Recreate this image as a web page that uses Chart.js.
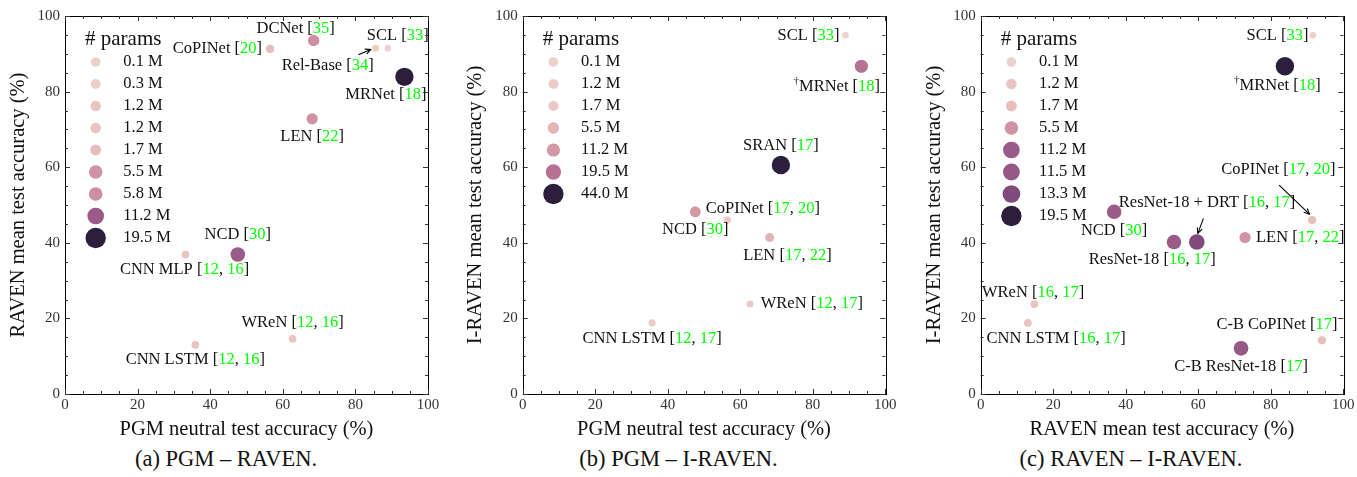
<!DOCTYPE html>
<html>
<head>
<meta charset="utf-8">
<script src="https://cdn.jsdelivr.net/npm/chart.js@4.4.1/dist/chart.umd.min.js"></script>
<style>
  html, body { margin: 0; padding: 0; background: #fff; }
  body { width: 1357px; height: 477px; position: relative; overflow: hidden; font-family: "Liberation Serif", serif; }
  .pane { position: absolute; top: 0; height: 445px; }
  .cap { position: absolute; top: 446px; font-size: 22.5px; color: #111; text-align: center; white-space: nowrap; }
</style>
</head>
<body>
<div class="pane" style="left:0px;width:452px"><canvas id="ca"></canvas></div>
<div class="pane" style="left:452px;width:453px"><canvas id="cb"></canvas></div>
<div class="pane" style="left:905px;width:452px"><canvas id="cc"></canvas></div>
<div class="cap" style="left:0px;width:452px">(a) PGM – RAVEN.</div>
<div class="cap" style="left:452px;width:453px">(b) PGM – I-RAVEN.</div>
<div class="cap" style="left:905px;width:452px">(c) RAVEN – I-RAVEN.</div>
<script>
// ---------------- DATA ----------------
const axisTicks = [0, 20, 40, 60, 80, 100];

// (a) PGM – RAVEN
const catsA   = ['CoPINet', 'DCNet', 'SCL', 'Rel-Base', 'MRNet', 'LEN', 'NCD', 'CNN MLP', 'WReN', 'CNN LSTM'];
const xA      = [56.5, 68.5, 88.9, 85.6, 93.5, 68.1, 47.6, 33.2, 62.7, 35.9];
const yA      = [91.3, 93.5, 91.5, 91.5, 83.9, 72.8, 36.9, 36.9, 14.6, 13.0];
const paramsA = [1.7, 5.8, 0.1, 0.3, 19.5, 5.5, 11.2, 1.2, 1.2, 1.2];
const refsA   = [[20], [35], [33], [34], [18], [22], [30], [12, 16], [12, 16], [12, 16]];
const legendA = [0.1, 0.3, 1.2, 1.2, 1.7, 5.5, 5.8, 11.2, 19.5];

// (b) PGM – I-RAVEN
const catsB   = ['SCL', '†MRNet', 'SRAN', 'NCD', 'CoPINet', 'LEN', 'WReN', 'CNN LSTM'];
const xB      = [89.0, 93.4, 71.2, 47.6, 56.4, 68.1, 62.7, 35.7];
const yB      = [94.9, 86.7, 60.6, 48.2, 46.0, 41.4, 23.8, 18.8];
const paramsB = [0.1, 19.5, 44.0, 11.2, 1.7, 5.5, 1.2, 1.2];
const refsB   = [[33], [18], [17], [30], [17, 20], [17, 22], [12, 17], [12, 17]];
const legendB = [0.1, 1.2, 1.7, 5.5, 11.2, 19.5, 44.0];

// (c) RAVEN – I-RAVEN
const catsC   = ['SCL', '†MRNet', 'CoPINet', 'NCD', 'ResNet-18 + DRT', 'ResNet-18', 'LEN', 'WReN', 'CNN LSTM', 'C-B CoPINet', 'C-B ResNet-18'];
const xC      = [91.6, 83.9, 91.4, 36.8, 59.6, 53.3, 72.9, 14.8, 13.0, 94.1, 71.8];
const yC      = [94.9, 86.7, 46.0, 48.2, 40.2, 40.2, 41.4, 23.8, 18.8, 14.2, 12.1];
const paramsC = [0.1, 19.5, 1.7, 11.2, 13.3, 11.2, 5.5, 1.2, 1.2, 1.7, 11.5];
const refsC   = [[33], [18], [17, 20], [30], [16, 17], [16, 17], [17, 22], [16, 17], [16, 17], [17], [17]];
const legendC = [0.1, 1.2, 1.7, 5.5, 11.2, 11.5, 13.3, 19.5];

// ---------------- LAYOUT (label placement, pixel offsets from the point) ----------------
const labelPosA = [[-8,0,'right'],[-18,-12,'center'],[10,-12,'center'],[-48,18,'center'],[-18.5,18.3,'center'],
                   [0,18,'center'],[0,-19.7,'center'],[-1,14.7,'center'],[0,-16.3,'center'],[0,15,'center']];
const arrowsA = [{i:3, from:[-17.4,6.6], to:[-5,1.3]}];
const labelPosB = [[-6,0,'right'],[-24.6,20,'center'],[0,-19,'center'],[0,18,'center'],[35.7,-11,'center'],
                   [17.8,18.3,'center'],[10.7,0,'left'],[0,15.3,'center']];
const arrowsB = [];
const labelPosC = [[-4.4,0,'right'],[-7.5,19,'center'],[-33.7,-50,'center'],[0,18.7,'center'],[10.3,-39.7,'center'],
                   [-21.8,18,'center'],[11,0,'left'],[-1.3,-11.6,'center'],[28.3,15.3,'center'],[-45,-15.7,'center'],[0,18.4,'center']];
const arrowsC = [{i:2, from:[-33,-35], to:[-2.7,-6]}, {i:4, from:[6.6,-23.7], to:[1,-8.7]}];

// ---------------- STYLE HELPERS ----------------
const SERIF = '"Liberation Serif", "Times New Roman", serif';
function cubehelix(t) {
  const x = 0.85 + (0.15 - 0.85) * t;
  const rot = 0.4, hue = 0.8;
  const a = hue * x * (1 - x) / 2;
  const phi = 2 * Math.PI * (rot * x);
  const f = (p0, p1) => Math.round(255 * Math.min(1, Math.max(0, x + a * (p0 * Math.cos(phi) + p1 * Math.sin(phi)))));
  return `rgb(${f(-0.14861, 1.78277)},${f(-0.29227, -0.90649)},${f(1.97294, 0)})`;
}
function norm(v, arr) { const mn = Math.min(...arr), mx = Math.max(...arr); return (v - mn) / (mx - mn); }
function radiusFor(t, rmin, rmax) { return Math.sqrt(rmin * rmin + (rmax * rmax - rmin * rmin) * t); }

function drawRichLabel(ctx, x, y, name, refs, align) {
  const font = '16.5px ' + SERIF, supFont = '11px ' + SERIF;
  let sup = null;
  if (name.startsWith('†')) { sup = '†'; name = name.slice(1); }
  const parts = [{t: name + ' [', c: '#111'}];
  refs.forEach((r, k) => { if (k > 0) parts.push({t: ', ', c: '#111'}); parts.push({t: String(r), c: '#00ff00'}); });
  parts.push({t: ']', c: '#111'});
  ctx.save();
  ctx.textBaseline = 'middle'; ctx.textAlign = 'left';
  let supW = 0;
  if (sup) { ctx.font = supFont; supW = ctx.measureText(sup).width; }
  ctx.font = font;
  const total = supW + parts.reduce((s, p) => s + ctx.measureText(p.t).width, 0);
  let sx = align === 'left' ? x : align === 'right' ? x - total : x - total / 2;
  if (sup) { ctx.font = supFont; ctx.fillStyle = '#111'; ctx.fillText(sup, sx, y - 5); sx += supW; ctx.font = font; }
  parts.forEach(p => { ctx.fillStyle = p.c; ctx.fillText(p.t, sx, y); sx += ctx.measureText(p.t).width; });
  ctx.restore();
}

function drawArrow(ctx, x1, y1, x2, y2) {
  ctx.save();
  ctx.strokeStyle = '#000'; ctx.lineWidth = 1.1;
  ctx.beginPath(); ctx.moveTo(x1, y1); ctx.lineTo(x2, y2); ctx.stroke();
  const ang = Math.atan2(y2 - y1, x2 - x1), L = 6, w = 0.45;
  ctx.beginPath();
  ctx.moveTo(x2 - L * Math.cos(ang - w), y2 - L * Math.sin(ang - w));
  ctx.lineTo(x2, y2);
  ctx.lineTo(x2 - L * Math.cos(ang + w), y2 - L * Math.sin(ang + w));
  ctx.stroke();
  ctx.restore();
}

// frame with inward major/minor ticks on all four sides
const framePlugin = {
  id: 'frame',
  afterDraw(chart) {
    const {ctx, chartArea: a, scales: {x, y}} = chart;
    ctx.save();
    ctx.strokeStyle = '#000'; ctx.lineWidth = 1;
    ctx.strokeRect(Math.round(a.left) + 0.5, Math.round(a.top) + 0.5, Math.round(a.right - a.left), Math.round(a.bottom - a.top));
    ctx.strokeStyle = '#333';
    for (let v = 0; v <= 100; v += 5) {
      const major = v % 20 === 0, L = major ? 5 : 3;
      const px = Math.round(x.getPixelForValue(v)) + 0.5;
      const py = Math.round(y.getPixelForValue(v)) + 0.5;
      ctx.beginPath();
      ctx.moveTo(px, a.bottom); ctx.lineTo(px, a.bottom - L);
      ctx.moveTo(px, a.top); ctx.lineTo(px, a.top + L);
      ctx.moveTo(a.left, py); ctx.lineTo(a.left + L, py);
      ctx.moveTo(a.right, py); ctx.lineTo(a.right - L, py);
      ctx.stroke();
    }
    ctx.restore();
  }
};

// labels, arrows, and "# params" legend
const annotPlugin = {
  id: 'annot',
  afterDatasetsDraw(chart, args, opts) {
    const {ctx, chartArea: a} = chart;
    const meta = chart.getDatasetMeta(0);
    opts.cats.forEach((name, i) => {
      const el = meta.data[i];
      const [dx, dy, al] = opts.labelPos[i];
      drawRichLabel(ctx, el.x + dx, el.y + dy, name, opts.refs[i], al);
    });
    opts.arrows.forEach(ar => {
      const el = meta.data[ar.i];
      drawArrow(ctx, el.x + ar.from[0], el.y + ar.from[1], el.x + ar.to[0], el.y + ar.to[1]);
    });
    // legend
    ctx.save();
    ctx.textBaseline = 'middle'; ctx.textAlign = 'left';
    ctx.fillStyle = '#111';
    ctx.font = '21px ' + SERIF;
    ctx.fillText('# params', a.left + 20, a.top + 23);
    ctx.font = '16.5px ' + SERIF;
    opts.legend.forEach((v, k) => {
      const t = norm(v, opts.params);
      const cy = a.top + 46 + 22 * k;
      ctx.beginPath();
      ctx.fillStyle = cubehelix(t);
      ctx.arc(a.left + 30.7, cy, radiusFor(t, 4.8, 10.2), 0, Math.PI * 2);
      ctx.fill();
      ctx.fillStyle = '#111';
      ctx.fillText(v.toFixed(1) + ' M', a.left + 58.3, cy);
    });
    ctx.restore();
  }
};

function makeChart(id, cats, xs, ys, params, refs, legend, labelPos, arrows, xTitle, yTitle, yAxisW, rightPad, yTitlePad) {
  const pts = xs.map((v, i) => ({x: v, y: ys[i]}));
  const ts = params.map(p => norm(p, params));
  const canvas = document.getElementById(id);
  return new Chart(canvas, {
    type: 'scatter',
    data: {
      datasets: [{
        data: pts,
        backgroundColor: ts.map(cubehelix),
        borderWidth: 0,
        pointRadius: ts.map(t => radiusFor(t, 3.3, 9.2)),
        clip: false
      }]
    },
    options: {
      responsive: true,
      maintainAspectRatio: false,
      animation: false,
      events: [],
      layout: {padding: {left: 0, top: 16, right: rightPad, bottom: 0}},
      plugins: {
        legend: {display: false},
        tooltip: {enabled: false},
        annot: {cats, refs, params, legend, labelPos, arrows}
      },
      scales: {
        x: {
          type: 'linear', min: 0, max: 100,
          afterBuildTicks: s => { s.ticks = axisTicks.map(v => ({value: v})); },
          afterFit: s => { s.height = 51; },
          grid: {display: false, drawTicks: false},
          border: {display: false},
          ticks: {color: '#333', padding: 2, font: {family: SERIF, size: 15}},
          title: {display: true, text: xTitle, color: '#111', font: {family: SERIF, size: 20.5}, padding: {top: 0, bottom: 3.4}}
        },
        y: {
          type: 'linear', min: 0, max: 100,
          afterBuildTicks: s => { s.ticks = axisTicks.map(v => ({value: v})); },
          afterFit: s => { s.width = yAxisW; },
          grid: {display: false, drawTicks: false},
          border: {display: false},
          ticks: {color: '#333', padding: 5, font: {family: SERIF, size: 15}},
          title: {display: true, text: yTitle, color: '#111', font: {family: SERIF, size: 20.5}, padding: {top: yTitlePad, bottom: 0}}
        }
      }
    },
    plugins: [framePlugin, annotPlugin]
  });
}

makeChart('ca', catsA, xA, yA, paramsA, refsA, legendA, labelPosA, arrowsA,
  'PGM neutral test accuracy (%)', 'RAVEN mean test accuracy (%)', 65, 24, 6.7);
makeChart('cb', catsB, xB, yB, paramsB, refsB, legendB, labelPosB, arrowsB,
  'PGM neutral test accuracy (%)', 'I-RAVEN mean test accuracy (%)', 70.7, 19.7, 11.7);
makeChart('cc', catsC, xC, yC, paramsC, refsC, legendC, labelPosC, arrowsC,
  'RAVEN mean test accuracy (%)', 'I-RAVEN mean test accuracy (%)', 75.7, 13.7, 17.2);
</script>
</body>
</html>
